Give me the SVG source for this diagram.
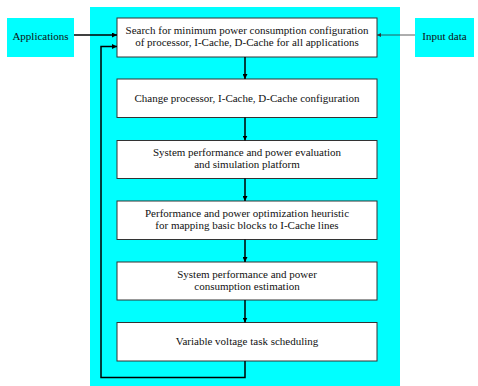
<svg xmlns="http://www.w3.org/2000/svg" width="478" height="386" viewBox="0 0 478 386">
<style>
.bg{fill:#00ffff}
.box{fill:#ffffff;stroke:#333333;stroke-width:1}
.t{font-family:"Liberation Serif","Times New Roman",serif;font-size:11px;fill:#111111;text-anchor:middle}
.c{fill:none;stroke:#000000;stroke-width:1.5}
.thin{fill:none;stroke:#333333;stroke-width:0.8}
</style>
<defs>
<marker id="ah" viewBox="0 0 8 8" refX="8" refY="4" markerWidth="5" markerHeight="5" markerUnits="userSpaceOnUse" orient="auto">
<path d="M0,0 L8,4 L0,8 z" fill="#000000"/>
</marker>
<marker id="ahs" viewBox="0 0 8 8" refX="8" refY="4" markerWidth="4" markerHeight="4" markerUnits="userSpaceOnUse" orient="auto">
<path d="M0,0 L8,4 L0,8 z" fill="#333333"/>
</marker>
</defs>
<rect class="bg" x="90" y="7" width="310" height="379"/>
<g id="applications">
<rect class="bg" x="7" y="18" width="67" height="39"/>
<text class="t" x="40.5" y="39.5">Applications</text>
</g>
<g id="input-data">
<rect class="bg" x="415" y="18" width="59" height="39"/>
<text class="t" x="444.5" y="39.5">Input data</text>
</g>
<g id="n1">
<rect class="box" x="117" y="18" width="260" height="39"/>
<text class="t" x="247" y="34">Search for minimum power consumption configuration</text>
<text class="t" x="247" y="46">of processor, I-Cache, D-Cache for all applications</text>
</g>
<g id="n2">
<rect class="box" x="117" y="79" width="260" height="38.5"/>
<text class="t" x="247" y="101.5">Change processor, I-Cache, D-Cache configuration</text>
</g>
<g id="n3">
<rect class="box" x="117" y="140.5" width="260" height="38"/>
<text class="t" x="247" y="156">System performance and power evaluation</text>
<text class="t" x="247" y="168">and simulation platform</text>
</g>
<g id="n4">
<rect class="box" x="117" y="201" width="260" height="38.5"/>
<text class="t" x="247" y="217">Performance and power optimization heuristic</text>
<text class="t" x="247" y="229">for mapping basic blocks to I-Cache lines</text>
</g>
<g id="n5">
<rect class="box" x="117" y="262" width="260" height="38"/>
<text class="t" x="247" y="277.5">System performance and power</text>
<text class="t" x="247" y="289.5">consumption estimation</text>
</g>
<g id="n6">
<rect class="box" x="117" y="322.5" width="260" height="38.5"/>
<text class="t" x="247" y="344.5">Variable voltage task scheduling</text>
</g>
<g id="connectors">
<line class="c" x1="74" y1="35" x2="117" y2="35" marker-end="url(#ah)"/>
<line class="thin" x1="415" y1="35" x2="377" y2="35" marker-end="url(#ahs)"/>
<line class="c" x1="245" y1="57" x2="245" y2="79" marker-end="url(#ah)"/>
<line class="c" x1="245" y1="117.5" x2="245" y2="140.5" marker-end="url(#ah)"/>
<line class="c" x1="245" y1="178.5" x2="245" y2="201" marker-end="url(#ah)"/>
<line class="c" x1="245" y1="239.5" x2="245" y2="262" marker-end="url(#ah)"/>
<line class="c" x1="245" y1="300" x2="245" y2="322.5" marker-end="url(#ah)"/>
<polyline class="c" points="245,361 245,377.5 101,377.5 101,46.5 117,46.5" marker-end="url(#ah)"/>
</g>
</svg>
